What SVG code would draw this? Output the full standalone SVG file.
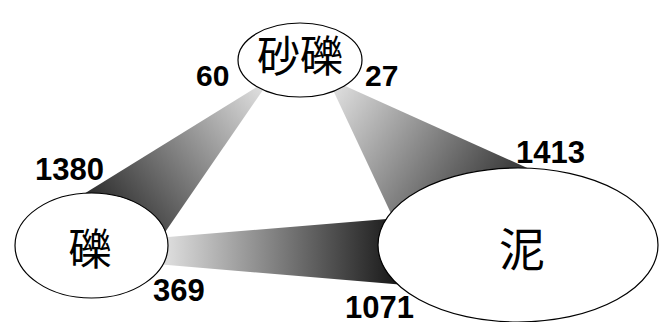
<svg xmlns="http://www.w3.org/2000/svg" width="665" height="322" viewBox="0 0 665 322">
  <style>
    .node ellipse { fill: #ffffff; stroke: #000000; stroke-width: 1.2; }
    .lbl { font-family: "Noto Sans CJK JP", "Noto Sans CJK SC", sans-serif; fill: #000; text-anchor: middle; }
    .num { font-family: "Liberation Sans", Arial, sans-serif; font-weight: bold; fill: #000; }
  </style>
  <defs>
    <linearGradient id="gTL" gradientUnits="userSpaceOnUse" x1="259" y1="89" x2="100" y2="215">
      <stop offset="0" stop-color="#dcdcdc"/>
      <stop offset="1" stop-color="#2a2a2a"/>
    </linearGradient>
    <linearGradient id="gTR" gradientUnits="userSpaceOnUse" x1="338" y1="88" x2="500" y2="195">
      <stop offset="0" stop-color="#dcdcdc"/>
      <stop offset="1" stop-color="#3a3a3a"/>
    </linearGradient>
    <linearGradient id="gLR" gradientUnits="userSpaceOnUse" x1="168" y1="0" x2="390" y2="0">
      <stop offset="0" stop-color="#dcdcdc"/>
      <stop offset="1" stop-color="#1e1e1e"/>
    </linearGradient>
  </defs>
  <g id="connectors">
    <polygon points="259.9,85 266.4,85 160,239.6 70,202.4" fill="url(#gTL)"/>
    <polygon points="333,90 343,85 545,176 395,222" fill="url(#gTR)"/>
    <polygon points="150,238.5 420,216.3 420,286.3 150,263.5" fill="url(#gLR)"/>
  </g>
  <g id="node-sareki" class="node">
    <ellipse cx="300" cy="60" rx="62" ry="37"/>
    <text class="lbl" x="300" y="72" font-size="43">砂礫</text>
  </g>
  <g id="node-reki" class="node">
    <ellipse cx="91.5" cy="245.5" rx="76.5" ry="52.5"/>
    <text class="lbl" x="90" y="265" font-size="43">礫</text>
  </g>
  <g id="node-doro" class="node">
    <ellipse cx="518" cy="245" rx="140" ry="77"/>
    <text class="lbl" x="522" y="266" font-size="46">泥</text>
  </g>
  <g id="labels">
    <text class="num" x="196" y="86" font-size="30">60</text>
    <text class="num" x="365" y="86" font-size="30">27</text>
    <text class="num" x="35" y="180" font-size="31">1380</text>
    <text class="num" x="516" y="163" font-size="31">1413</text>
    <text class="num" x="153" y="301" font-size="31">369</text>
    <text class="num" x="345" y="318" font-size="31">1071</text>
  </g>
</svg>
